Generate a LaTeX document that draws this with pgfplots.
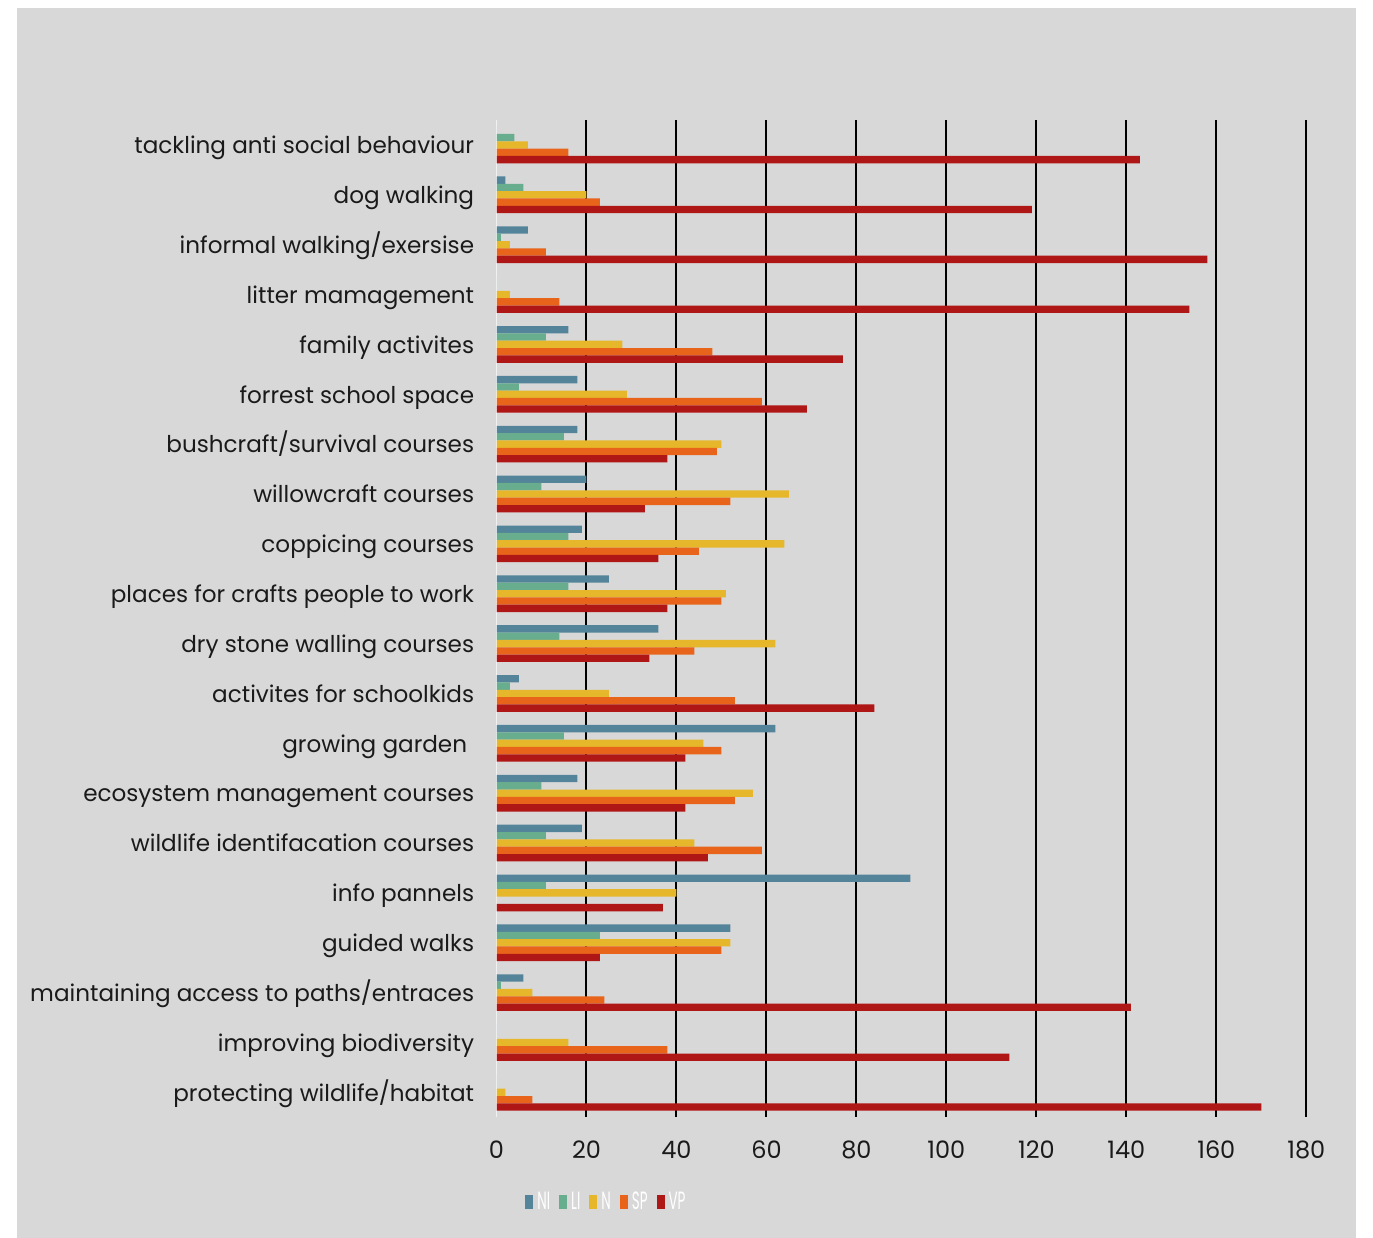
\documentclass[border=0pt]{standalone}
\usepackage{pgfplots}
\usepackage{pgfplotstable}
\usepackage{graphicx}
\pgfplotsset{compat=1.18}
\usepackage{fontspec}
\setmainfont{Poppins}
\definecolor{cNI}{HTML}{53849A}
\definecolor{cLI}{HTML}{69AD8F}
\definecolor{cN}{HTML}{E6B72A}
\definecolor{cSP}{HTML}{E8641A}
\definecolor{cVP}{HTML}{AF1616}
\definecolor{panel}{HTML}{D8D8D8}
\definecolor{txt}{HTML}{1A1A1A}
\pgfplotstableread{
idx NI LI N SP VP
0 0 4 7 16 143
1 2 6 20 23 119
2 7 1 3 11 158
3 0 0 3 14 154
4 16 11 28 48 77
5 18 5 29 59 69
6 18 15 50 49 38
7 20 10 65 52 33
8 19 16 64 45 36
9 25 16 51 50 38
10 36 14 62 44 34
11 5 3 25 53 84
12 62 15 46 50 42
13 18 10 57 53 42
14 19 11 44 59 47
15 92 11 40 0 37
16 52 23 52 50 23
17 6 1 8 24 141
18 0 0 16 38 114
19 0 0 2 8 170
}\datatable
\newcommand{\cond}[1]{\scalebox{0.54}[1]{#1}}
\begin{document}
\begin{tikzpicture}[x=1pt,y=1pt]
\fill[white] (0,0) rectangle (686.5,619);
\fill[panel] (8.5,0) rectangle (678,615);
\path[use as bounding box] (0,0) rectangle (686.5,619);
\begin{axis}[
  at={(248.25pt,60.35pt)}, anchor=south west,
  scale only axis, width=404.9pt, height=498.65pt,
  xbar=0pt, bar width=3.67pt,
  xmin=0, xmax=180, ymin=-0.5, ymax=19.5, y dir=reverse,
  xtick={20,40,...,180},
  extra x ticks={0}, extra x tick style={grid=none},
  xmajorgrids, grid style={black, line width=1pt},
  ytick={0,...,19},
  yticklabels={tackling anti social behaviour, dog walking, informal walking/exersise, litter mamagement, family activites, forrest school space, bushcraft/survival courses, willowcraft courses, coppicing courses, places for crafts people to work, dry stone walling courses, activites for schoolkids, growing garden\kern3.5pt, ecosystem management courses, wildlife identifacation courses, info pannels, guided walks, maintaining access to paths/entraces, improving biodiversity, protecting wildlife/habitat},
  axis line style={draw=none},
  major tick length=0pt,
  /pgf/number format/assume math mode=true,
  xticklabel style={anchor=north, inner sep=0pt, yshift=-11.5pt, text=txt, font=\fontsize{12}{12}\selectfont},
  yticklabel style={anchor=base east, inner sep=0pt, xshift=-11pt, yshift=-4.4pt, text=txt, font=\fontsize{11.55}{11.55}\selectfont},
  legend columns=5,
  legend style={at={(0.0352,-0.085)}, anchor=west, draw=none, fill=none, inner sep=0pt,
    font=\fontsize{12.5}{12.5}\selectfont, text=white,
    nodes={inner xsep=2pt, inner ysep=0pt},
    /tikz/every even column/.append style={column sep=2.5pt}},
  legend image code/.code={\fill[#1] (0pt,-3.4pt) rectangle (4pt,3.4pt);},
]
\addplot[fill=cNI, draw=none, bar shift=7.34pt] table[x=NI, y=idx] {\datatable};
\addplot[fill=cLI, draw=none, bar shift=3.67pt] table[x=LI, y=idx] {\datatable};
\addplot[fill=cN, draw=none, bar shift=0pt] table[x=N, y=idx] {\datatable};
\addplot[fill=cSP, draw=none, bar shift=-3.67pt] table[x=SP, y=idx] {\datatable};
\addplot[fill=cVP, draw=none, bar shift=-7.34pt] table[x=VP, y=idx] {\datatable};
\legend{\cond{NI},\cond{LI},\cond{N},\cond{SP},\cond{VP}}
\draw[white, line width=0.7pt] (axis cs:0,-0.5) -- (axis cs:0,19.5);
\end{axis}
\end{tikzpicture}
\end{document}
